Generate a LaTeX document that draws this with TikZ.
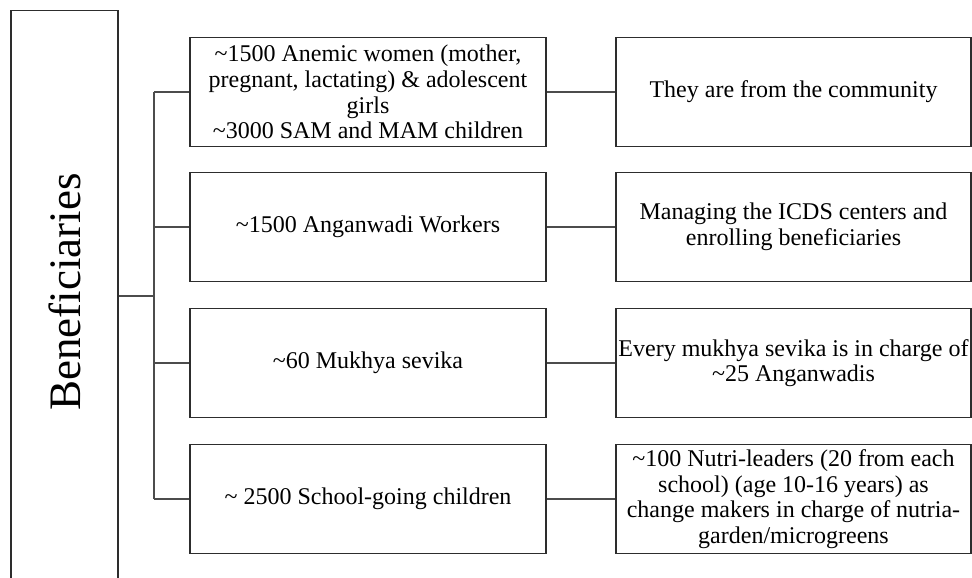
\documentclass[tikz,border=0pt]{standalone}
\usepackage{fontspec}
\setmainfont{Liberation Serif}
\definecolor{boxline}{RGB}{45,45,45}
\tikzset{
  grpbox/.style={draw=boxline, line width=1.1pt, minimum width=356pt, minimum height=109pt,
    align=center, inner sep=1pt, font=\fontsize{24}{25.7}\selectfont},
  rolebox/.style={grpbox, minimum width=355pt},
  link/.style={draw=boxline!85, line width=1.1pt}
}
\begin{document}
\begin{tikzpicture}[x=1pt,y=1pt]
\useasboundingbox (0,0) rectangle (972,578);
\clip (0,0) rectangle (972,578);
% Left column
\node[draw=boxline, line width=1.1pt, minimum width=107pt, minimum height=600pt, anchor=north] (benef) at (64.5,568) {};
\node[rotate=90, font=\fontsize{45}{45}\selectfont] (benefname) at (65,286) {Beneficiaries};

% Groups
\node[grpbox] (grp1) at (368,486) {\textasciitilde1500 Anemic women (mother,\\ pregnant, lactating) \& adolescent\\ girls\\ \textasciitilde3000 SAM and MAM children};
\node[grpbox] (grp2) at (368,351) {\textasciitilde1500 Anganwadi Workers};
\node[grpbox] (grp3) at (368,215) {\textasciitilde60 Mukhya sevika};
\node[grpbox] (grp4) at (368,79) {\textasciitilde{} 2500 School-going children};

% Roles
\node[rolebox] (role1) at (793.5,486) {They are from the community};
\node[rolebox] (role2) at (793.5,351) {Managing the ICDS centers and\\ enrolling beneficiaries};
\node[rolebox] (role3) at (793.5,215) {Every mukhya sevika is in charge of\\ \textasciitilde25 Anganwadis};
\node[rolebox] (role4) at (793.5,79) {\textasciitilde100 Nutri-leaders (20 from each\\ school) (age 10-16 years) as\\ change makers in charge of nutria-\\ garden/microgreens};

% Connectors
\coordinate (spine) at (154,282);
\draw[link] (benef.east |- spine) -- (spine);
\draw[link] (grp1.west -| spine) -- (grp4.west -| spine);
\foreach \i in {1,...,4} {
  \draw[link] (grp\i.west -| spine) -- (grp\i.west);
  \draw[link] (grp\i.east) -- (role\i.west);
}
\end{tikzpicture}
\end{document}
